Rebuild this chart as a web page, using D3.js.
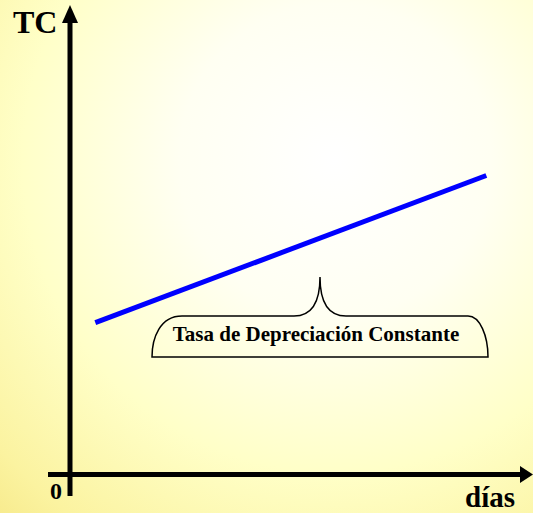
<!DOCTYPE html>
<html>
<head>
<meta charset="utf-8">
<script src="https://cdn.jsdelivr.net/npm/d3@7"></script>
<style>
  body { margin: 0; }
  svg { display: block; }
  text { font-family: "Liberation Serif", "Times New Roman", serif; font-weight: bold; fill: #000; }
</style>
</head>
<body>
<div id="chart"></div>
<script>
// tipo de cambio (TC) contra días
var days = [1.1, 18.1];
var tc = [3.3, 6.5];
var label = "Tasa de Depreciación Constante";
var axisLabels = ["TC", "días", "0"];

var w = 533;
var h = 513;

var x = d3.scaleLinear().domain([0, 20]).range([70, 530]);
var y = d3.scaleLinear().domain([0, 10]).range([474.5, 14.5]);

var svg = d3.select("#chart")
  .append("svg")
  .attr("width", w)
  .attr("height", h);

var defs = svg.append("defs");
var grad = defs.append("radialGradient")
  .attr("id", "bg")
  .attr("gradientUnits", "userSpaceOnUse")
  .attr("cx", 335).attr("cy", 160).attr("r", 520);
grad.append("stop").attr("offset", 0).attr("stop-color", "#ffffff");
grad.append("stop").attr("offset", 0.3).attr("stop-color", "#fffff2");
grad.append("stop").attr("offset", 0.6).attr("stop-color", "#ffffc8");
grad.append("stop").attr("offset", 0.85).attr("stop-color", "#fbf3a0");
grad.append("stop").attr("offset", 1).attr("stop-color", "#f5e682");

svg.append("rect")
  .attr("width", w)
  .attr("height", h)
  .attr("fill", "url(#bg)");

// ejes
var x0 = x(0), y0 = y(0);
svg.append("line")
  .attr("x1", x0).attr("x2", x0)
  .attr("y1", 496).attr("y2", 20)
  .attr("stroke", "#000").attr("stroke-width", 5);
svg.append("path")
  .attr("d", "M" + x0 + ",5 L" + (x0 - 8) + ",23 L" + (x0 + 8) + ",23 Z")
  .attr("fill", "#000");

svg.append("line")
  .attr("x1", 48).attr("x2", 522)
  .attr("y1", y0).attr("y2", y0)
  .attr("stroke", "#000").attr("stroke-width", 5);
svg.append("path")
  .attr("d", "M533," + y0 + " L520," + (y0 - 8.5) + " L520," + (y0 + 8.5) + " Z")
  .attr("fill", "#000");

// recta
var pts = days.map(function(d, i) { return [x(d), y(tc[i])]; });
svg.append("path")
  .attr("d", d3.line()(pts))
  .attr("fill", "none")
  .attr("stroke", "#0000ff")
  .attr("stroke-width", 5);

// llave
var brace = "M152,357 C152,338 160,316 182,316 L294,316 C312,316 320,302 320,277 " +
  "C320,302 328,316 346,316 L468,316 C480,316 488,336 488,357 Z";
svg.append("path")
  .attr("d", brace)
  .attr("fill", "none")
  .attr("stroke", "#000")
  .attr("stroke-width", 1.5);

svg.append("text")
  .attr("x", 316).attr("y", 341)
  .attr("text-anchor", "middle")
  .style("font-size", "21px")
  .text(label);

svg.append("text")
  .attr("x", 13).attr("y", 33)
  .style("font-size", "32px")
  .text(axisLabels[0]);

svg.append("text")
  .attr("x", 465).attr("y", 507)
  .style("font-size", "29px")
  .text(axisLabels[1]);

svg.append("text")
  .attr("x", 50).attr("y", 499)
  .style("font-size", "24px")
  .text(axisLabels[2]);
</script>
</body>
</html>
